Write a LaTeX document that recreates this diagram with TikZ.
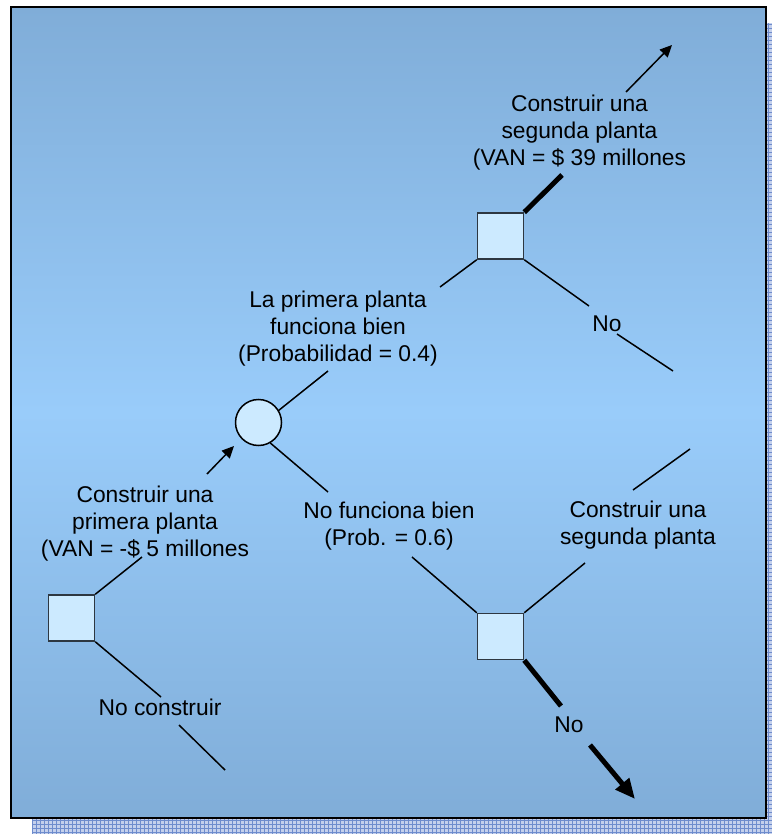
\documentclass[tikz,border=0pt]{standalone}
\usepackage{fontspec}
\setmainfont{Liberation Sans}
\usetikzlibrary{arrows.meta}
\definecolor{bgedge}{RGB}{128,173,216}
\definecolor{bgmid}{RGB}{153,204,250}
\definecolor{boxfill}{RGB}{204,234,255}
\definecolor{boxline}{RGB}{45,55,65}
\definecolor{shadowbg}{RGB}{196,208,236}
\definecolor{shadowgrid}{RGB}{110,140,205}
\begin{document}
\begin{tikzpicture}[x=1pt,y=-1pt,
  decision/.style={draw=boxline,line width=1.5pt,fill=boxfill,minimum size=46pt,inner sep=0pt},
  chance/.style={circle,draw=black,line width=1.5pt,fill=boxfill,minimum size=46pt,inner sep=0pt},
  lbl/.style={align=center,inner sep=0pt,font=\fontsize{22.8}{27}\selectfont},
  branch/.style={line width=1.5pt},
  heavy/.style={line width=5pt},
  thinarrow/.style={branch,-{Triangle[length=12pt,width=11pt]}},
  heavyarrow/.style={heavy,-{Triangle[length=20pt,width=17pt]}}
]
\useasboundingbox (0,0) rectangle (771,834);

% hatched drop shadow behind the panel
\begin{scope}
  \clip (32,23) rectangle (787,834);
  \fill[shadowbg] (32,23) rectangle (787,834);
  \draw[shadowgrid,line width=0.8pt,step=4pt] (32,23) grid (787,834);
\end{scope}

% panel with reflected gradient
\shade[top color=bgedge,bottom color=bgedge,middle color=bgmid] (11,7) rectangle (766,818);
\draw[black,line width=1.8pt] (11,7) rectangle (766,818);

% decision and chance nodes
\node[decision] (start) at (71.5,618) {};
\node[chance] (first) at (258.5,422.5) {};
\node[decision] (good) at (500.5,236) {};
\node[decision] (bad) at (500.5,636.5) {};

% branch labels
\node[lbl] (buildfirst) at (145,524) {Construir una\\primera planta\\(VAN = -\$ 5 millones};
\node[lbl] (nobuild) at (160,707) {No construir};
\node[lbl] (works) at (338,329) {La primera planta\\funciona bien\\(Probabilidad = 0.4)};
\node[lbl] (fails) at (389,526) {No funciona bien\\(Prob. = 0.6)};
\node[lbl] (buildsecond) at (579.5,133) {Construir una\\segunda planta\\(VAN = \$ 39 millones};
\node[lbl] (nogood) at (607,324) {No};
\node[lbl] (buildsecondbad) at (638,525.5) {Construir una\\segunda planta};
\node[lbl] (nobad) at (569,725) {No};

% gap ends of the branches
\coordinate (a1) at (142,557);
\coordinate (b1) at (207,474);
\coordinate (t1) at (234,446);
\coordinate (a2) at (161,697);
\coordinate (b2) at (179,725);
\coordinate (e2) at (225,770);
\coordinate (c1) at (328,371);
\coordinate (d1) at (440,287);
\coordinate (c2) at (328,492);
\coordinate (d2) at (412,557);
\coordinate (c3) at (562,175);
\coordinate (d3) at (626,92);
\coordinate (t3) at (672,45);
\coordinate (c4) at (589,306);
\coordinate (d4) at (617,334);
\coordinate (e4) at (673,371);
\coordinate (c5) at (585,563);
\coordinate (d5) at (633,490);
\coordinate (e5) at (690,449);
\coordinate (c6) at (561,706);
\coordinate (d6) at (590,745);
\coordinate (t6) at (635,799);

% first decision
\draw[branch] (start.north east) -- (a1);
\draw[thinarrow] (b1) -- (t1);
\draw[branch] (start.south east) -- (a2);
\draw[branch] (b2) -- (e2);

% chance outcomes
\draw[branch] (first.31) -- (c1);
\draw[branch] (d1) -- (good.south west);
\draw[branch] (first.-60) -- (c2);
\draw[branch] (d2) -- (bad.north west);

% second decision after success
\draw[heavy] (good.north east) -- (c3);
\draw[thinarrow] (d3) -- (t3);
\draw[branch] (good.south east) -- (c4);
\draw[branch] (d4) -- (e4);

% second decision after failure
\draw[branch] (bad.north east) -- (c5);
\draw[branch] (d5) -- (e5);
\draw[heavy] (bad.south east) -- (c6);
\draw[heavyarrow] (d6) -- (t6);
\end{tikzpicture}
\end{document}
